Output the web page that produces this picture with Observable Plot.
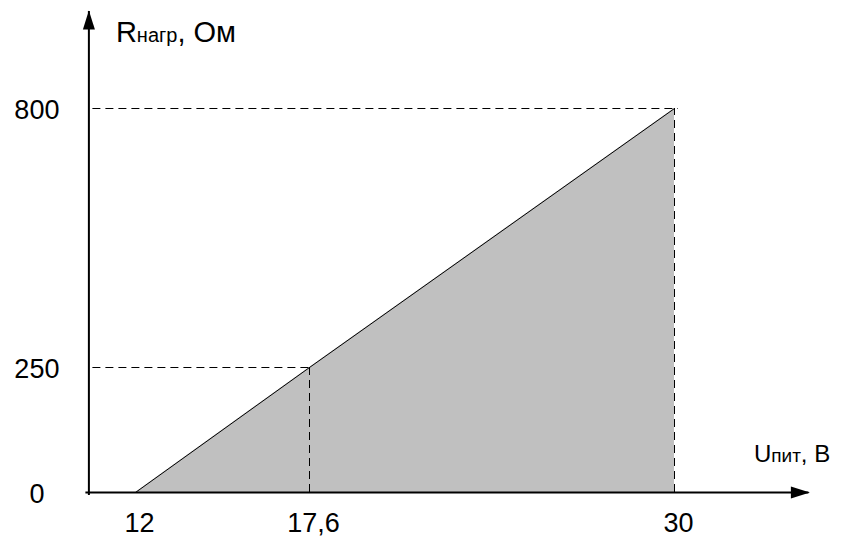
<!DOCTYPE html>
<html>
<head>
<meta charset="utf-8">
<script src="https://cdn.jsdelivr.net/npm/d3@7"></script>
<script src="https://cdn.jsdelivr.net/npm/@observablehq/plot@0.6"></script>
<style>
  html, body { margin: 0; padding: 0; background: #fff; }
  #chart { width: 842px; height: 541px; }
</style>
</head>
<body>
<div id="chart"></div>
<script>
// ---- data ----
const voltage = [12, 17.6, 30];          // U_пит, В
const resistance = [0, 250, 800];        // R_нагр, Ом
const xTicks = [12, 17.6, 30];
const xTickLabels = ["12", "17,6", "30"];
const yTicks = [0, 250, 800];
const yTickLabels = ["0", "250", "800"];
const xAxisExtent = [10.5, 34.6];
const yAxisExtent = [0, 1008];
const yTitleParts = ["R", "нагр", ", Ом"];
const xTitleParts = ["U", "пит", ", В"];

const points = voltage.map((v, i) => ({x: v, y: resistance[i]}));
const guides = points.slice(1);

// filled triangular arrowhead, tip at the origin, pointing up
const arrowHead = {
  draw(ctx) {
    ctx.moveTo(0, 0);
    ctx.lineTo(-6, 19);
    ctx.lineTo(6, 19);
    ctx.closePath();
  }
};

const font = "'Liberation Sans', Arial, Helvetica, sans-serif";

const plot = Plot.plot({
  width: 842,
  height: 541,
  margin: 0,
  style: {fontFamily: font, background: "#fff", overflow: "visible"},
  x: {type: "linear", domain: [12, 17.6, 30], range: [135, 309, 674], axis: null},
  y: {type: "linear", domain: [0, 250, 800], range: [492, 367, 108], axis: null},
  marks: [
    Plot.areaY(points, {x: "x", y: "y", fill: "#c0c0c0"}),
    Plot.line(points, {x: "x", y: "y", stroke: "#000", strokeWidth: 1}),
    // dashed guides
    Plot.ruleY(guides, {y: "y", x1: xAxisExtent[0], x2: "x", dx: 4, stroke: "#000", strokeWidth: 1, strokeDasharray: "8,5"}),
    Plot.ruleX(guides, {x: "x", y1: 0, y2: "y", stroke: "#000", strokeWidth: 1, strokeDasharray: "8,5"}),
    // axes
    Plot.ruleY([0], {x1: xAxisExtent[0], x2: xAxisExtent[1], stroke: "#000", strokeWidth: 2, strokeLinecap: "square", dx: -2}),
    Plot.ruleX([xAxisExtent[0]], {y1: yAxisExtent[0], y2: yAxisExtent[1], stroke: "#000", strokeWidth: 2, strokeLinecap: "square", dy: 2}),
    Plot.dot([xAxisExtent[1]], {x: d => d, y: 0, symbol: arrowHead, rotate: 90, fill: "#000", stroke: null}),
    Plot.dot([yAxisExtent[1]], {x: xAxisExtent[0], y: d => d, symbol: arrowHead, rotate: 0, fill: "#000", stroke: null}),
    // tick labels
    Plot.text(xTicks, {x: d => d, y: 0, text: (d, i) => xTickLabels[i], dx: 4, dy: 31, fontSize: 27, fill: "#000"}),
    Plot.text(yTicks, {x: xAxisExtent[0], y: d => d, text: (d, i) => yTickLabels[i], dx: -52, dy: 2, fontSize: 27, fill: "#000"}),
    // axis titles
    Plot.text([yTitleParts.join("")], {x: xAxisExtent[0], y: yAxisExtent[1], text: d => d, textAnchor: "start", dx: 27, dy: 22, fontSize: 29, fill: "#000"}),
    Plot.text([xTitleParts.join("")], {x: xAxisExtent[1], y: 0, text: d => d, textAnchor: "start", dx: -56, dy: -38, fontSize: 24, fill: "#000"})
  ]
});

// subscripts as real tspans
function subscript(parts, subSize) {
  const joined = parts.join("");
  d3.select(plot).selectAll("text").each(function() {
    if (this.textContent === joined) {
      const t = d3.select(this);
      t.text(null);
      t.append("tspan").text(parts[0]);
      t.append("tspan").attr("font-size", subSize).text(parts[1]);
      t.append("tspan").text(parts[2]);
    }
  });
}
subscript(yTitleParts, 20);
subscript(xTitleParts, 19);

document.getElementById("chart").appendChild(plot);
</script>
</body>
</html>
